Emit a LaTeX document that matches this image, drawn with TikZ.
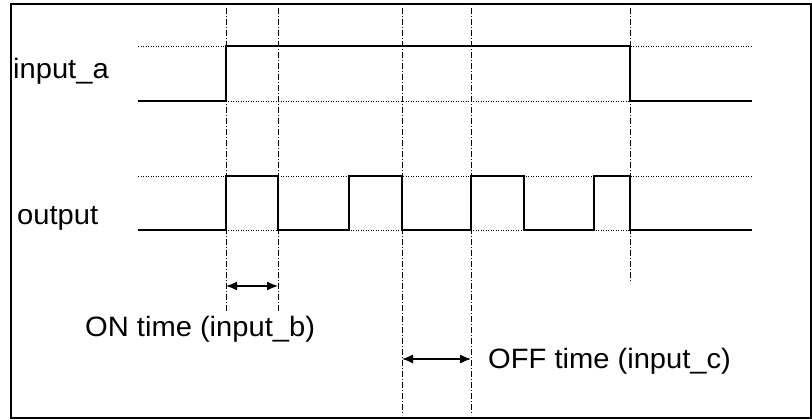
\documentclass[tikz,border=0pt]{standalone}
\usepackage{fontspec}
\setmainfont{Liberation Sans}
\usetikzlibrary{arrows.meta}
\begin{document}
\begin{tikzpicture}[x=1pt,y=-1pt,
  frame/.style={line width=2pt},
  wave/.style={line width=1.6pt},
  guide/.style={line width=0.6pt,dash pattern=on 1pt off 1.5pt},
  marker/.style={line width=0.6pt,dash pattern=on 6pt off 2pt on 1pt off 2pt},
  dim/.style={line width=1.3pt,{Latex[length=11pt,width=9pt]}-{Latex[length=11pt,width=9pt]}},
  lbl/.style={inner sep=0pt,font=\fontsize{28}{33}\selectfont}]
\useasboundingbox (0,0) rectangle (812,420);
\fill[white] (0,0) rectangle (812,420);
\draw[frame] (11,4) rectangle (811,418);
% vertical markers
\draw[marker] (226,8) -- (226,312);
\draw[marker] (278,8) -- (278,312);
\draw[marker] (402,8) -- (402,415);
\draw[marker] (471,8) -- (471,415);
\draw[marker] (630,8) -- (630,282);
% guide levels
\draw[guide] (138,46) -- (752,46);
\draw[guide] (138,101) -- (752,101);
\draw[guide] (138,176) -- (752,176);
\draw[guide] (138,230) -- (752,230);
% input_a waveform
\draw[wave] (138,101) -- (226,101) -- (226,46) -- (630,46) -- (630,101) -- (752,101);
% output waveform
\draw[wave] (138,230) -- (226,230) -- (226,176) -- (278,176) -- (278,230)
  -- (349,230) -- (349,176) -- (402,176) -- (402,230)
  -- (471,230) -- (471,176) -- (524,176) -- (524,230)
  -- (594,230) -- (594,176) -- (630,176) -- (630,230) -- (752,230);
% labels
\node[lbl,anchor=base west] (ina) at (13,78) {\scalebox{1.04}[1]{input\_a}};
\node[lbl,anchor=base west] (outl) at (17,224) {\scalebox{1.04}[1]{output}};
\node[lbl,anchor=base west] (ont) at (85,336) {\scalebox{1.04}[1]{ON time (input\_b)}};
\node[lbl,anchor=base west] (offt) at (488,368) {\scalebox{1.04}[1]{OFF time (input\_c)}};
% dimension arrows
\coordinate (onA) at (226,286);
\coordinate (onB) at (278,286);
\coordinate (offA) at (402,359);
\coordinate (offB) at (471,359);
\draw[dim] (onA) -- (onB);
\draw[dim] (offA) -- (offB);
\end{tikzpicture}
\end{document}
